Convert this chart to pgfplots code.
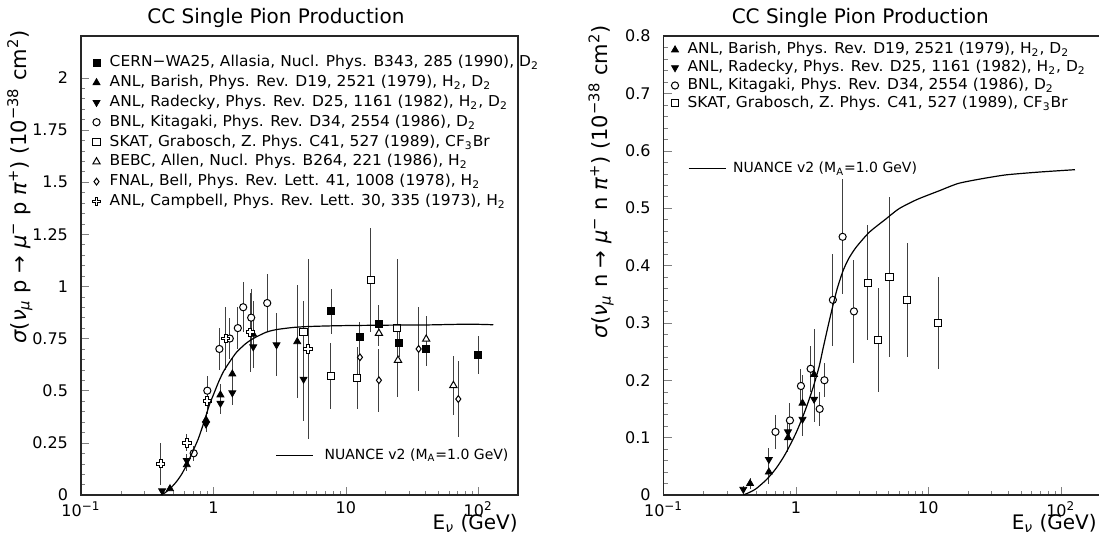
\documentclass[border=0pt]{standalone}
\usepackage{fontspec}
\setmainfont{DejaVu Sans}
\newfontfamily\legfont[FakeStretch=1.03]{DejaVu Sans}
\usepackage{pgfplots}
\usepackage{pgfplotstable}
\pgfplotsset{compat=1.18}

\newcommand{\g}[1]{{\itshape #1}}

\pgfdeclareplotmark{ocross}{%
  \pgfpathmoveto{\pgfqpoint{-0.33\pgfplotmarksize}{\pgfplotmarksize}}%
  \pgfpathlineto{\pgfqpoint{0.33\pgfplotmarksize}{\pgfplotmarksize}}%
  \pgfpathlineto{\pgfqpoint{0.33\pgfplotmarksize}{0.33\pgfplotmarksize}}%
  \pgfpathlineto{\pgfqpoint{\pgfplotmarksize}{0.33\pgfplotmarksize}}%
  \pgfpathlineto{\pgfqpoint{\pgfplotmarksize}{-0.33\pgfplotmarksize}}%
  \pgfpathlineto{\pgfqpoint{0.33\pgfplotmarksize}{-0.33\pgfplotmarksize}}%
  \pgfpathlineto{\pgfqpoint{0.33\pgfplotmarksize}{-\pgfplotmarksize}}%
  \pgfpathlineto{\pgfqpoint{-0.33\pgfplotmarksize}{-\pgfplotmarksize}}%
  \pgfpathlineto{\pgfqpoint{-0.33\pgfplotmarksize}{-0.33\pgfplotmarksize}}%
  \pgfpathlineto{\pgfqpoint{-\pgfplotmarksize}{-0.33\pgfplotmarksize}}%
  \pgfpathlineto{\pgfqpoint{-\pgfplotmarksize}{0.33\pgfplotmarksize}}%
  \pgfpathlineto{\pgfqpoint{-0.33\pgfplotmarksize}{0.33\pgfplotmarksize}}%
  \pgfpathclose
  \pgfusepathqfillstroke}

% ---------- left plot data ----------
\pgfplotstableread{
x y e
7.74 0.88 0.107
12.8 0.76 0.07
17.8 0.82 0.09
25.4 0.73 0.07
40.5 0.70 0.08
100 0.67 0.09
}\Lcern
\pgfplotstableread{
x y e
0.47 0.03 0.01
0.63 0.145 0.03
0.88 0.36 0.04
1.13 0.48 0.05
1.39 0.58 0.08
2.0 0.77 0.16
4.3 0.735 0.27
}\Lbarish
\pgfplotstableread{
x y e
0.41 0.02 0.01
0.63 0.165 0.03
0.88 0.34 0.04
1.13 0.44 0.05
1.39 0.49 0.06
2.0 0.71 0.10
3.0 0.72 0.15
4.8 0.555 0.20
}\Lradecky
\pgfplotstableread{
x y e
0.71 0.20 0.035
0.90 0.50 0.07
1.11 0.70 0.10
1.33 0.75 0.10
1.53 0.80 0.10
1.68 0.90 0.12
1.93 0.85 0.135
2.55 0.92 0.14
}\Lbnl
\pgfplotstableread{
x y e
4.8 0.78 0.15
7.7 0.57 0.16
12.2 0.56 0.15
15.4 1.03 0.25
24.4 0.80 0.33
}\Lskat
\pgfplotstableread{
x y e
17.8 0.775 0.06
24.8 0.646 0.17
40.5 0.747 0.11
65 0.525 0.14
}\Lbebc
\pgfplotstableread{
x y e
12.8 0.66 0.10
17.8 0.55 0.15
35.5 0.70 0.20
70.8 0.46 0.18
}\Lfnal
\pgfplotstableread{
x y e
0.40 0.15 0.10
0.63 0.25 0.04
0.90 0.45 0.06
1.24 0.75 0.15
1.90 0.78 0.19
5.2 0.70 0.43
}\Lcampbell
\pgfplotstableread{
x y
0.40 0.0
0.43 0.01
0.47 0.03
0.52 0.06
0.57 0.095
0.63 0.145
0.70 0.21
0.77 0.27
0.85 0.35
0.93 0.43
1.0 0.48
1.1 0.545
1.2 0.595
1.35 0.645
1.5 0.685
1.75 0.725
2.0 0.75
2.5 0.78
3.0 0.793
4.0 0.803
5.0 0.807
7.0 0.81
10 0.812
20 0.814
40 0.815
70 0.818
100 0.818
130 0.816
}\Lnuance

% ---------- right plot data ----------
\pgfplotstableread{
x y e
0.45 0.02 0.01
0.624 0.04 0.02
0.87 0.10 0.025
1.12 0.16 0.05
1.37 0.21 0.08
}\Rbarish
\pgfplotstableread{
x y e
0.40 0.01 0.005
0.624 0.062 0.02
0.87 0.11 0.02
1.12 0.132 0.03
1.37 0.167 0.04
}\Rradecky
\pgfplotstableread{
x y e
0.70 0.11 0.03
0.90 0.13 0.03
1.09 0.19 0.03
1.29 0.22 0.04
1.51 0.15 0.03
1.64 0.20 0.03
1.90 0.34 0.08
2.25 0.45 0.10
2.74 0.32 0.09
}\Rbnl
\pgfplotstableread{
x y e
3.48 0.37 0.10
4.17 0.27 0.09
5.08 0.38 0.14
6.92 0.34 0.10
11.9 0.30 0.08
}\Rskat
\pgfplotstableread{
x y
0.40 0.0
0.45 0.005
0.5 0.011
0.6 0.027
0.7 0.045
0.8 0.065
0.87 0.08
1.0 0.108
1.12 0.135
1.25 0.165
1.37 0.193
1.5 0.225
1.6 0.255
1.75 0.295
1.9 0.33
2.05 0.36
2.26 0.39
2.5 0.412
2.85 0.432
3.58 0.458
4.77 0.481
6.0 0.499
8.2 0.515
12 0.53
16.8 0.543
25 0.551
38.7 0.558
70 0.563
128 0.567
}\Rnuance

\pgfplotsset{
  ebar/.style={error bars/y dir=both, error bars/y explicit, error bars/error mark=none,
    error bars/error bar style={line width=0.5pt, black!75}},
  marklegend/.style={legend image code/.code={\draw[mark repeat=2,mark phase=2,##1] plot coordinates {(0pt,0pt)(4pt,0pt)(8pt,0pt)};}},
  linelegend/.style={legend image code/.code={\draw[##1] (0pt,0pt) -- (18.5pt,0pt);}},
}

\begin{document}
\begin{tikzpicture}
\useasboundingbox (0,0) rectangle (549.5pt,270.5pt);

% ================= LEFT =================
\begin{axis}[
  at={(40.5pt,23pt)}, anchor=south west, scale only axis,
  width=218.5pt, height=229.5pt,
  xmode=log, xmin=0.1, xmax=200, ymin=0, ymax=2.2,
  tick align=inside, xtick pos=left, ytick pos=left,
  major tick length=4pt, minor tick length=2.2pt,
  axis line style={line width=0.6pt, black!85},
  xtick={0.1,1,10,100},
  xticklabels={10\textsuperscript{−1},1,10,10\textsuperscript{2}},
  ytick={0,0.25,0.5,0.75,1,1.25,1.5,1.75,2}, minor y tick num=4,
  tick label style={font=\fontsize{8}{9}\selectfont},
  yticklabel style={xshift=-3pt},
  /pgf/number format/assume math mode=true,
  title={CC Single Pion Production},
  title style={font=\fontsize{10}{12}\selectfont, at={(axis description cs:0.446,1)}, anchor=center, yshift=3.25pt},
  xlabel={E\textsubscript{\g{ν}} (GeV)},
  xlabel style={font=\fontsize{10}{12}\selectfont, at={(axis description cs:1,-0.061)}, anchor=east, inner sep=0pt},
  ylabel={\g{σ}(\g{ν}\textsubscript{\g{μ}} p → \g{μ}\textsuperscript{−} p \g{π}\textsuperscript{+}) (10\textsuperscript{−38} cm\textsuperscript{2})},
  ylabel style={font=\fontsize{10.5}{12}\selectfont, at={(axis description cs:-0.14,1.013)}, anchor=east, inner sep=0pt},
  legend cell align=left, marklegend,
  legend style={draw=none, fill=none, at={(axis description cs:0.025,0.964)}, anchor=north west, inner sep=0pt,
      font=\legfont\fontsize{7.5}{8}\selectfont, row sep=0pt, column sep=3.5pt,
      nodes={inner sep=1pt, text height=6pt, text depth=1.9pt}},
]
\addplot[only marks, mark=square*, mark size=1.75pt, mark options={fill=black, draw=black}, ebar] table[x=x,y=y,y error=e] {\Lcern};
\addlegendentry{CERN−WA25, Allasia, Nucl. Phys. B343, 285 (1990), D\textsubscript{2}}
\addplot[only marks, mark=triangle*, mark size=2pt, mark options={fill=black, draw=black}, ebar] table[x=x,y=y,y error=e] {\Lbarish};
\addlegendentry{ANL, Barish, Phys. Rev. D19, 2521 (1979), H\textsubscript{2}, D\textsubscript{2}}
\addplot[only marks, mark=triangle*, mark size=2pt, mark options={fill=black, draw=black, rotate=180}, ebar] table[x=x,y=y,y error=e] {\Lradecky};
\addlegendentry{ANL, Radecky, Phys. Rev. D25, 1161 (1982), H\textsubscript{2}, D\textsubscript{2}}
\addplot[only marks, mark=*, mark size=1.8pt, mark options={fill=white, draw=black, line width=0.5pt}, ebar] table[x=x,y=y,y error=e] {\Lbnl};
\addlegendentry{BNL, Kitagaki, Phys. Rev. D34, 2554 (1986), D\textsubscript{2}}
\addplot[only marks, mark=square*, mark size=1.8pt, mark options={fill=white, draw=black, line width=0.5pt}, ebar] table[x=x,y=y,y error=e] {\Lskat};
\addlegendentry{SKAT, Grabosch, Z. Phys. C41, 527 (1989), CF\textsubscript{3}Br}
\addplot[only marks, mark=triangle*, mark size=2.1pt, mark options={fill=white, draw=black, line width=0.5pt}, ebar] table[x=x,y=y,y error=e] {\Lbebc};
\addlegendentry{BEBC, Allen, Nucl. Phys. B264, 221 (1986), H\textsubscript{2}}
\addplot[only marks, mark=diamond*, mark size=1.7pt, mark options={fill=white, draw=black, line width=0.5pt}, ebar] table[x=x,y=y,y error=e] {\Lfnal};
\addlegendentry{FNAL, Bell, Phys. Rev. Lett. 41, 1008 (1978), H\textsubscript{2}}
\addplot[only marks, mark=ocross, mark size=2.1pt, mark options={fill=white, draw=black, line width=0.5pt}, ebar] table[x=x,y=y,y error=e] {\Lcampbell};
\addlegendentry{ANL, Campbell, Phys. Rev. Lett. 30, 335 (1973), H\textsubscript{2}}
\end{axis}
\begin{axis}[
  at={(40.5pt,23pt)}, anchor=south west, scale only axis,
  width=218.5pt, height=229.5pt,
  xmode=log, xmin=0.1, xmax=200, ymin=0, ymax=2.2, hide axis,
  linelegend,
  legend style={draw=none, fill=none, at={(axis description cs:0.444,0.108)}, anchor=north west, inner sep=0pt,
      font=\fontsize{7}{8}\selectfont, column sep=4.5pt,
      nodes={inner sep=1pt, text height=5.8pt, text depth=1.7pt}},
]
\addplot[black, line width=0.6pt, smooth, tension=0.4, no marks] table[x=x,y=y] {\Lnuance};
\addlegendentry{NUANCE v2 (M\textsubscript{A}=1.0 GeV)}
\end{axis}

% ================= RIGHT =================
\begin{axis}[
  at={(331.8pt,23pt)}, anchor=south west, scale only axis,
  width=218.5pt, height=229.5pt,
  xmode=log, xmin=0.1, xmax=200, ymin=0, ymax=0.8,
  tick align=inside, xtick pos=left, ytick pos=left,
  major tick length=4pt, minor tick length=2.2pt,
  axis line style={line width=0.6pt, black!85},
  xtick={0.1,1,10,100},
  xticklabels={10\textsuperscript{−1},1,10,10\textsuperscript{2}},
  ytick={0,0.1,0.2,0.3,0.4,0.5,0.6,0.7,0.8}, minor y tick num=4,
  tick label style={font=\fontsize{8}{9}\selectfont},
  yticklabel style={xshift=-3pt},
  /pgf/number format/assume math mode=true,
  title={CC Single Pion Production},
  title style={font=\fontsize{10}{12}\selectfont, at={(axis description cs:0.45,1)}, anchor=center, yshift=3.25pt},
  xlabel={E\textsubscript{\g{ν}} (GeV)},
  xlabel style={font=\fontsize{10}{12}\selectfont, at={(axis description cs:0.992,-0.061)}, anchor=east, inner sep=0pt},
  ylabel={\g{σ}(\g{ν}\textsubscript{\g{μ}} n → \g{μ}\textsuperscript{−} n \g{π}\textsuperscript{+}) (10\textsuperscript{−38} cm\textsuperscript{2})},
  ylabel style={font=\fontsize{10.5}{12}\selectfont, at={(axis description cs:-0.143,1.024)}, anchor=east, inner sep=0pt},
  legend cell align=left, marklegend,
  legend style={draw=none, fill=none, at={(axis description cs:0.017,0.99)}, anchor=north west, inner sep=0pt,
      font=\legfont\fontsize{7.5}{8}\selectfont, row sep=0pt, column sep=3.5pt,
      nodes={inner sep=1pt, text height=5.4pt, text depth=1.5pt}},
]
\addplot[only marks, mark=triangle*, mark size=2pt, mark options={fill=black, draw=black}, ebar] table[x=x,y=y,y error=e] {\Rbarish};
\addlegendentry{ANL, Barish, Phys. Rev. D19, 2521 (1979), H\textsubscript{2}, D\textsubscript{2}}
\addplot[only marks, mark=triangle*, mark size=2pt, mark options={fill=black, draw=black, rotate=180}, ebar] table[x=x,y=y,y error=e] {\Rradecky};
\addlegendentry{ANL, Radecky, Phys. Rev. D25, 1161 (1982), H\textsubscript{2}, D\textsubscript{2}}
\addplot[only marks, mark=*, mark size=1.8pt, mark options={fill=white, draw=black, line width=0.5pt}, ebar] table[x=x,y=y,y error=e] {\Rbnl};
\addlegendentry{BNL, Kitagaki, Phys. Rev. D34, 2554 (1986), D\textsubscript{2}}
\addplot[only marks, mark=square*, mark size=1.8pt, mark options={fill=white, draw=black, line width=0.5pt}, ebar] table[x=x,y=y,y error=e] {\Rskat};
\addlegendentry{SKAT, Grabosch, Z. Phys. C41, 527 (1989), CF\textsubscript{3}Br}
\end{axis}
\begin{axis}[
  at={(331.8pt,23pt)}, anchor=south west, scale only axis,
  width=218.5pt, height=229.5pt,
  xmode=log, xmin=0.1, xmax=200, ymin=0, ymax=0.8, hide axis,
  linelegend,
  legend style={draw=none, fill=none, at={(axis description cs:0.055,0.733)}, anchor=north west, inner sep=0pt,
      font=\fontsize{7}{8}\selectfont, column sep=2.5pt,
      nodes={inner sep=1pt, text height=5.8pt, text depth=1.7pt}},
]
\addplot[black, line width=0.6pt, smooth, tension=0.4, no marks] table[x=x,y=y] {\Rnuance};
\addlegendentry{NUANCE v2 (M\textsubscript{A}=1.0 GeV)}
\end{axis}
\end{tikzpicture}
\end{document}
